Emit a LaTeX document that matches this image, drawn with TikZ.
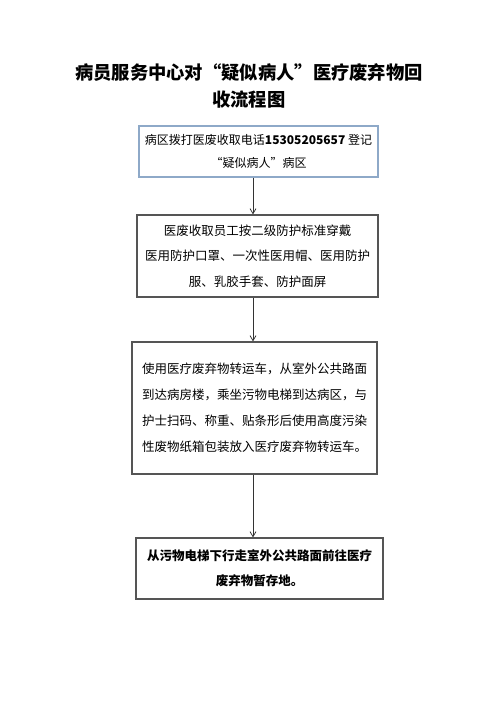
\documentclass[tikz,border=0pt]{standalone}
\usepackage{fontspec}
\newfontfamily\cjk{Noto Sans CJK SC}
\usetikzlibrary{arrows.meta}
\definecolor{boxgray}{HTML}{555555}
\definecolor{boxblue}{HTML}{8EA9C8}
\begin{document}
\begin{tikzpicture}[x=1pt, y=-1pt,
    block/.style={draw=boxgray, line width=1.2pt, inner sep=0pt, align=center, font=\cjk\fontsize{12.5}{26}\selectfont},
    arrow/.style={-{Straight Barb[length=5pt, width=6pt]}, line width=0.8pt, draw=black!80}
]
\useasboundingbox (0,0) rectangle (500,707);

% Title
\node[align=center, font=\cjk\bfseries\fontsize{18.3}{27}\selectfont] (title) at (249, 86)
    {病员服务中心对“疑似病人”医疗废弃物回\\收流程图};

% Steps
\node[block, draw=boxblue, minimum width=239, minimum height=51, font=\cjk\fontsize{12}{23}\selectfont] (call) at (258.5, 151.5)
    {病区拨打医废收取电话\textbf{15305205657} 登记\\“疑似病人”病区};
\node[block, minimum width=241, minimum height=82, font=\cjk\fontsize{12.5}{25.5}\selectfont] (dress) at (257.5, 256)
    {医废收取员工按二级防护标准穿戴\\医用防护口罩、一次性医用帽、医用防护\\服、乳胶手套、防护面屏};
\node[block, minimum width=245, minimum height=132] (collect) at (254.5, 408)
    {使用医疗废弃物转运车，从室外公共路面\\到达病房楼，乘坐污物电梯到达病区，与\\护士扫码、称重、贴条形后使用高度污染\\性废物纸箱包装放入医疗废弃物转运车。};
\node[block, minimum width=247, minimum height=61, font=\cjk\bfseries\fontsize{12.5}{25}\selectfont] (store) at (259.5, 568.5)
    {从污物电梯下行走室外公共路面前往医疗\\废弃物暂存地。};

% Arrows
\coordinate (axis) at (253, 0);
\draw[arrow] (call.south -| axis) -- (dress.north -| axis);
\draw[arrow] (dress.south -| axis) -- (collect.north -| axis);
\draw[arrow] (collect.south -| axis) -- (store.north -| axis);
\end{tikzpicture}
\end{document}
